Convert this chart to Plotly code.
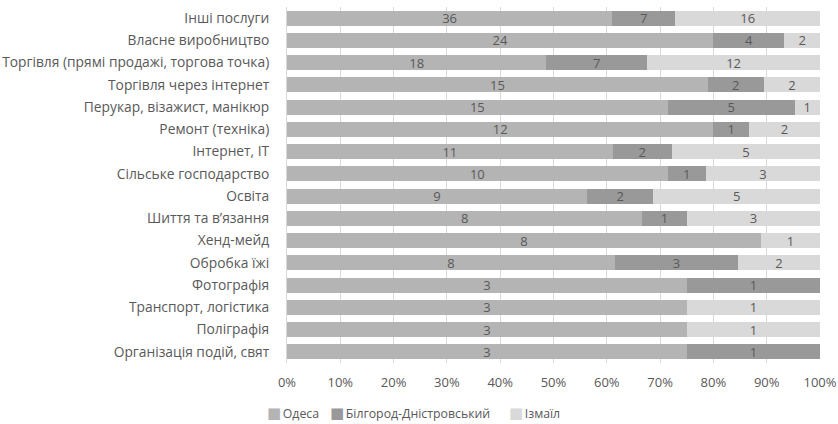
import plotly.graph_objects as go

categories = [
    "Інші послуги",
    "Власне виробництво",
    "Торгівля (прямі продажі, торгова точка)",
    "Торгівля через інтернет",
    "Перукар, візажист, манікюр",
    "Ремонт (техніка)",
    "Інтернет, IT",
    "Сільське господарство",
    "Освіта",
    "Шиття та в’язання",
    "Хенд-мейд",
    "Обробка їжі",
    "Фотографія",
    "Транспорт, логістика",
    "Поліграфія",
    "Організація подій, свят",
]
odesa = [36, 24, 18, 15, 15, 12, 11, 10, 9, 8, 8, 8, 3, 3, 3, 3]
bilhorod = [7, 4, 7, 2, 5, 1, 2, 1, 2, 1, 0, 3, 1, 0, 0, 1]
izmail = [16, 2, 12, 2, 1, 2, 5, 3, 5, 3, 1, 2, 0, 1, 1, 0]

series = [
    ("Одеса", odesa, "#B4B4B4"),
    ("Білгород-Дністровський", bilhorod, "#999999"),
    ("Ізмаїл", izmail, "#D9D9D9"),
]

FONT = "Open Sans"
TXT = "#595959"

fig = go.Figure()
for name, vals, col in series:
    fig.add_trace(go.Bar(
        y=categories, x=vals, name=name, orientation="h",
        marker=dict(color=col, line=dict(width=0)),
        text=[str(v) if v else "" for v in vals],
        textposition="inside", insidetextanchor="middle", textangle=0,
        textfont=dict(family=FONT, size=13, color=TXT),
        constraintext="none", showlegend=False,
    ))

# legend drawn as text entries (compact Excel-style legend)
legend_x = [-0.041, 0.0775, 0.4135]
for (name, vals, col), lx in zip(series, legend_x):
    fig.add_annotation(
        xref="paper", yref="paper", x=lx, y=-0.1404, xanchor="left", yanchor="middle",
        showarrow=False,
        text=(f"<span style='color:{col}; font-size:15px; font-family:DejaVu Sans'>■</span>"
              f"<span style='font-size:6px'> </span>{name}"),
        font=dict(family=FONT, size=12.3, color=TXT),
    )

fig.update_layout(
    barmode="stack", barnorm="percent", bargap=0.32,
    width=838, height=424,
    margin=dict(l=287, r=18, t=7, b=61),
    paper_bgcolor="white", plot_bgcolor="white",
    font=dict(family=FONT, size=13, color=TXT),
    showlegend=False,
    xaxis=dict(range=[0, 100], dtick=10, ticksuffix="%", showgrid=True,
               gridcolor="#D9D9D9", gridwidth=1, zeroline=False,
               tickfont=dict(family=FONT, size=13, color=TXT),
               ticklabelstandoff=10, automargin=False),
    yaxis=dict(autorange="reversed", showline=True, linecolor="#D9D9D9",
               ticks="", tickfont=dict(family=FONT, size=13.8, color=TXT),
               ticklabelstandoff=14, automargin=False),
)

fig.write_html("out.html")
